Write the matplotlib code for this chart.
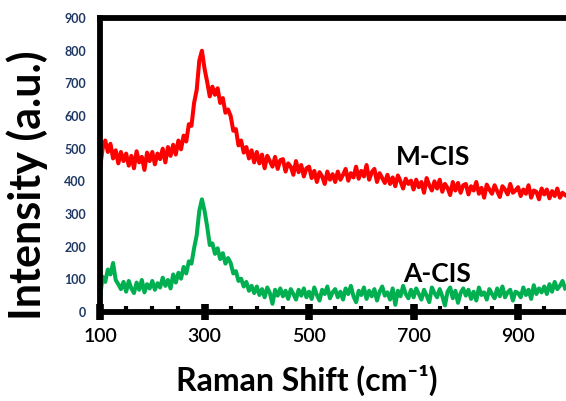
import matplotlib.pyplot as plt
from matplotlib.ticker import FixedLocator, MultipleLocator
import numpy as np

plt.rcParams['font.family'] = ['Lato', 'DejaVu Sans']

# Raman shift axis, one reading every 5 cm-1 from 100 to 990
shift = np.arange(100, 991, 5)

m_cis = [
    440, 500, 525, 490, 515, 470, 495, 455, 490, 462,
    485, 448, 478, 440, 492, 458, 475, 435, 488, 462,
    490, 452, 485, 468, 500, 458, 505, 478, 512, 482,
    525, 498, 540, 522, 575, 570, 640, 680, 770, 800,
    745, 705, 660, 690, 665, 685, 640, 655, 610, 620,
    600, 555, 560, 510, 525, 488, 505, 470, 495, 458,
    490, 455, 482, 440, 478, 462, 445, 475, 438, 465,
    468, 430, 455, 445, 420, 462, 428, 450, 415, 440,
    445, 410, 432, 398, 428, 415, 392, 430, 405, 422,
    398, 430, 405, 420, 438, 402, 425, 412, 445, 408,
    432, 415, 450, 405, 428, 438, 398, 425, 410, 395,
    420, 392, 412, 385, 418, 400, 378, 408, 392, 402,
    375, 405, 382, 398, 365, 410, 388, 372, 400, 378,
    405, 368, 392, 380, 358, 398, 372, 395, 365, 388,
    392, 360, 385, 372, 398, 362, 380, 350, 390, 375,
    362, 388, 370, 352, 385, 375, 360, 392, 365, 372,
    382, 355, 375, 362, 388, 350, 372, 368, 345, 378,
    360, 375, 348, 370, 355, 378, 350, 365, 358,
]

a_cis = [
    45, 108, 92, 130, 115, 150, 98, 85, 70, 92,
    62, 95, 72, 58, 90, 68, 98, 60, 85, 72,
    95, 68, 88, 75, 105, 80, 98, 72, 115, 90,
    120, 102, 138, 118, 155, 148, 195, 235, 310, 345,
    310, 262, 205, 210, 178, 195, 162, 180, 148, 165,
    150, 118, 125, 95, 102, 78, 92, 65, 80, 58,
    78, 52, 70, 45, 75, 58, 25, 68, 50, 72,
    48, 65, 40, 70, 55, 38, 68, 50, 72, 45,
    62, 40, 75, 52, 35, 68, 55, 78, 42, 60,
    70, 45, 62, 38, 72, 55, 80, 48, 30, 65,
    52, 75, 40, 65, 48, 70, 35, 62, 78, 50,
    60, 38, 72, 22, 65, 48, 80, 55, 42, 68,
    45, 72, 55, 38, 68, 50, 30, 75, 58, 45,
    70, 48, 20, 62, 75, 42, 65, 28, 58, 72,
    50, 68, 40, 62, 35, 75, 52, 60, 38, 70,
    55, 42, 72, 48, 78, 45, 60, 68, 35, 62,
    58, 45, 75, 52, 68, 40, 82, 55, 72, 60,
    78, 55, 85, 62, 92, 70, 80, 95, 72,
]

x_ticks = [100, 300, 500, 700, 900]
y_ticks = [0, 100, 200, 300, 400, 500, 600, 700, 800, 900]

fig = plt.figure(figsize=(5.66, 4.01), dpi=100)
# axes runs past the right edge, like the cropped original
ax = fig.add_axes([0.1767, 0.222, 0.831, 0.733])

ax.plot(shift, m_cis, color='#ff0000', lw=2.9)
ax.plot(shift, a_cis, color='#00b050', lw=2.9)

ax.text(737, 474, 'M-CIS', ha='center', va='center', fontsize=19, fontweight='bold')
ax.text(745, 116, 'A-CIS', ha='center', va='center', fontsize=19, fontweight='bold')

ax.set_xlim(100, 1000)
ax.set_ylim(0, 900)
ax.xaxis.set_major_locator(FixedLocator(x_ticks))
ax.xaxis.set_minor_locator(MultipleLocator(50))
ax.yaxis.set_major_locator(FixedLocator(y_ticks))

for s in ['left', 'top', 'bottom', 'right']:
    ax.spines[s].set_linewidth(4.2)
ax.tick_params(axis='x', which='major', direction='inout', length=11, width=5.5,
               labelsize=14, pad=6)
ax.tick_params(axis='x', which='minor', direction='in', length=4, width=3)
ax.tick_params(axis='y', which='major', length=0, labelsize=9, pad=10,
               labelcolor='#1f3864')
for lab in ax.get_yticklabels():
    lab.set_fontweight('bold')
for lab in ax.get_xticklabels():
    lab.set_fontweight('semibold')

ax.set_xlabel('Raman Shift (cm\u207b\u00b9)', fontsize=23, fontweight='bold')
ax.xaxis.set_label_coords(0.44, -0.18)
ax.set_ylabel('Intensity (a.u.)', fontsize=31, fontweight='bold')
ax.yaxis.set_label_coords(-0.11, 0.43)

fig.savefig('out.png', dpi=100)
